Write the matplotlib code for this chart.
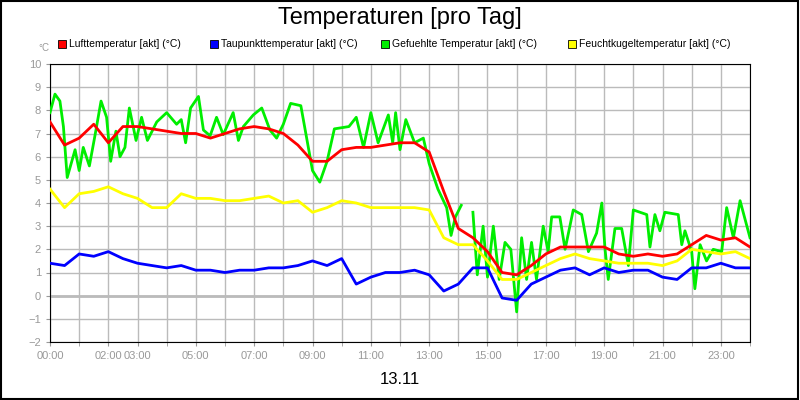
import numpy as np
import matplotlib
matplotlib.use("Agg")
import matplotlib.pyplot as plt
from matplotlib.patches import Rectangle

plt.rcParams["font.family"] = "Liberation Sans"

hours = np.arange(0, 24.01, 0.5)
luft = [7.5,6.5,6.8,7.4,6.6,7.3,7.3,7.2,7.1,7.0,7.0,6.8,7.0,7.2,7.3,7.2,7.0,6.5,5.8,5.8,6.3,6.4,6.4,6.5,6.6,6.6,
        6.2,4.5,2.9,2.5,1.9,1.0,0.9,1.3,1.8,2.1,2.1,2.1,2.1,1.8,1.7,1.8,1.7,1.8,2.2,2.6,2.4,2.5,2.1]
taupunkt = [1.4,1.3,1.8,1.7,1.9,1.6,1.4,1.3,1.2,1.3,1.1,1.1,1.0,1.1,1.1,1.2,1.2,1.3,1.5,1.3,1.6,0.5,0.8,1.0,1.0,1.1,
            0.9,0.2,0.5,1.2,1.2,-0.1,-0.2,0.5,0.8,1.1,1.2,0.9,1.2,1.0,1.1,1.1,0.8,0.7,1.2,1.2,1.4,1.2,1.2]
feucht = [4.6,3.8,4.4,4.5,4.7,4.4,4.2,3.8,3.8,4.4,4.2,4.2,4.1,4.1,4.2,4.3,4.0,4.1,3.6,3.8,4.1,4.0,3.8,3.8,3.8,3.8,
          3.7,2.5,2.2,2.2,1.5,0.7,0.7,1.0,1.3,1.6,1.8,1.6,1.5,1.4,1.4,1.4,1.3,1.5,2.0,1.9,1.8,1.9,1.6]

gef_t = [0.0,0.17,0.34,0.46,0.59,0.86,1.0,1.14,1.35,1.54,1.75,1.94,2.08,2.26,2.4,2.57,2.72,2.95,3.14,3.34,3.66,
         4.0,4.34,4.5,4.65,4.82,5.09,5.26,5.49,5.71,5.94,6.28,6.46,6.63,6.97,7.26,7.54,7.77,8.0,8.25,8.6,9.0,9.25,
         9.5,9.75,10.25,10.5,10.75,11.0,11.25,11.6,11.75,11.85,12.0,12.2,12.5,12.8,13.0,13.3,13.6,13.75,13.9,14.1,
         14.2,14.5,14.65,14.85,15.0,15.2,15.4,15.6,15.8,16.0,16.17,16.34,16.51,16.68,16.91,17.08,17.2,17.48,17.66,
         17.94,18.23,18.46,18.74,18.92,19.03,19.14,19.37,19.6,19.83,20.0,20.46,20.57,20.74,20.91,21.08,21.54,21.66,
         21.77,22.0,22.11,22.29,22.51,22.74,23.03,23.2,23.43,23.66,24.0]
gef_v = [7.9,8.7,8.4,7.3,5.1,6.3,5.4,6.4,5.6,6.9,8.4,7.7,5.8,7.1,6.0,6.4,8.1,6.7,7.7,6.7,7.5,
         7.9,7.4,7.6,6.6,8.1,8.6,7.15,6.9,7.7,6.95,7.9,6.7,7.3,7.8,8.1,7.15,6.8,7.4,8.3,8.2,5.4,4.9,
         5.8,7.2,7.3,7.7,6.4,7.9,6.6,7.8,6.6,7.9,6.3,7.6,6.6,6.8,5.7,4.6,3.8,2.6,3.4,3.9,
         np.nan,3.6,0.9,3.0,0.8,3.0,0.7,2.3,2.0,-0.7,2.5,0.7,2.3,0.7,3.0,1.9,3.4,3.4,2.0,
         3.7,3.5,1.9,2.7,4.0,2.0,0.7,2.9,2.9,1.3,3.7,3.5,2.1,3.5,2.8,3.6,3.5,2.2,
         2.8,1.9,0.3,2.2,1.5,2.0,1.9,3.8,2.5,4.1,2.5]

tick_hours = [0, 2, 3, 5, 7, 9, 11, 13, 15, 17, 19, 21, 23]
tick_labels = ["00:00", "02:00", "03:00", "05:00", "07:00", "09:00", "11:00", "13:00",
               "15:00", "17:00", "19:00", "21:00", "23:00"]
series_names = ["Lufttemperatur [akt] (°C)", "Taupunkttemperatur [akt] (°C)",
                "Gefuehlte Temperatur [akt] (°C)", "Feuchtkugeltemperatur [akt] (°C)"]
colors = ["#ff0000", "#0000ff", "#00ee00", "#ffff00"]

fig = plt.figure(figsize=(8, 4), dpi=100)
ax = fig.add_axes([50/800, 58/400, 700/800, 278/400])
ax.set_xlim(0, 24)
ax.set_ylim(-2, 10)
ax.set_xticks(np.arange(0, 25, 1), minor=True)
ax.set_xticks(tick_hours)
ax.set_xticklabels(tick_labels)
ax.set_yticks(np.arange(-2, 11, 1))
ax.grid(True, which="both", color="#bbbbbb", lw=1)
ax.axhline(0, color="#bbbbbb", lw=2, zorder=1)
ax.tick_params(colors="#999999", labelsize=8, length=3)
ax.tick_params(which="minor", length=3, color="#999999")
for s in ax.spines.values():
    s.set_color("black")
ax.set_axisbelow(True)

ax.plot(gef_t, gef_v, color=colors[2], lw=2, zorder=3)
ax.plot(hours, feucht, color=colors[3], lw=2, zorder=4)
ax.plot(hours, luft, color=colors[0], lw=2, zorder=5)
ax.plot(hours, taupunkt, color=colors[1], lw=2, zorder=6)

fig.text(0.5, 1 - 18/400, "Temperaturen [pro Tag]", ha="center", va="center", fontsize=17)
fig.text(38/800, 1 - 48/400, "°C", color="#999999", fontsize=7, va="center")
lx = [58, 210, 381, 568]
for x, n, c in zip(lx, series_names, colors):
    fig.patches.append(Rectangle((x/800, 1 - 48/400), 8/800, 8/400, transform=fig.transFigure,
                                 facecolor=c, edgecolor="black", lw=0.6))
    fig.text((x + 11)/800, 1 - 44/400, n, fontsize=7.5, va="center")
fig.text(0.5, 1 - 380/400, "13.11", ha="center", va="center", fontsize=12)
fig.patches.append(Rectangle((0.001, 0.002), 0.997, 0.996, transform=fig.transFigure,
                             fill=False, edgecolor="black", lw=1.5))
fig.savefig("out.png", dpi=100)
